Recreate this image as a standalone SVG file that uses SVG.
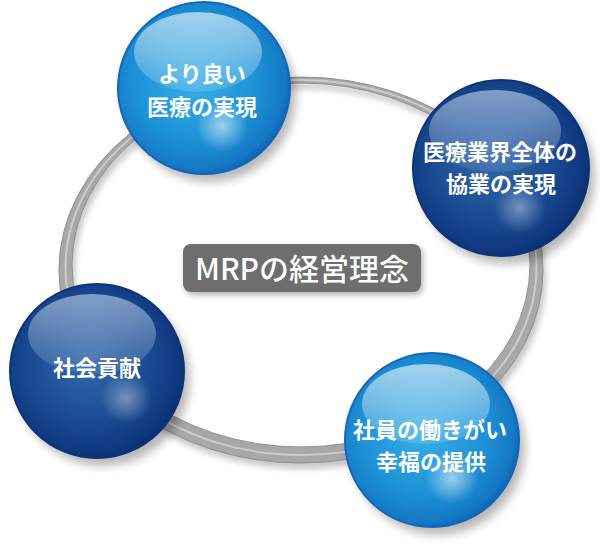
<svg xmlns="http://www.w3.org/2000/svg" width="600" height="547" viewBox="0 0 600 547">
<defs>
<style>
.lbl{font-family:"Noto Sans CJK JP","Noto Sans",sans-serif;font-weight:700;font-size:22px;fill:#fff;text-anchor:middle}
.title{font-family:"Noto Sans CJK JP","Noto Sans",sans-serif;font-weight:500;font-size:30px;fill:#fff;text-anchor:middle}
</style>
<filter id="blur" x="-20%" y="-20%" width="140%" height="140%"><feGaussianBlur stdDeviation="5"/></filter>
<filter id="blur2" x="-20%" y="-20%" width="140%" height="140%"><feGaussianBlur stdDeviation="3"/></filter>
<radialGradient id="lightBody" cx="45%" cy="45%" r="58%">
<stop offset="0" stop-color="#3aaee8"/>
<stop offset="0.6" stop-color="#1d93d7"/>
<stop offset="0.9" stop-color="#1579c6"/>
<stop offset="1" stop-color="#0d5fb0"/>
</radialGradient>
<radialGradient id="darkBody" cx="45%" cy="45%" r="58%">
<stop offset="0" stop-color="#3268aa"/>
<stop offset="0.6" stop-color="#1a4b92"/>
<stop offset="0.9" stop-color="#0f377e"/>
<stop offset="1" stop-color="#0a2d70"/>
</radialGradient>
<linearGradient id="hiLight" x1="0" y1="0" x2="0" y2="1">
<stop offset="0" stop-color="#fff" stop-opacity="0.6"/>
<stop offset="1" stop-color="#fff" stop-opacity="0.12"/>
</linearGradient>
<linearGradient id="hiDark" x1="0" y1="0" x2="0" y2="1">
<stop offset="0" stop-color="#c8d8ee" stop-opacity="0.6"/>
<stop offset="1" stop-color="#c8d8ee" stop-opacity="0.1"/>
</linearGradient>
<radialGradient id="spot">
<stop offset="0" stop-color="#fff" stop-opacity="0.55"/>
<stop offset="1" stop-color="#fff" stop-opacity="0"/>
</radialGradient>
</defs>

<g id="connectors">
<path d="M 59 270 A 242 193 0 1 0 543 270 A 242 193 0 1 0 59 270 Z M 72 265 A 229 182 0 1 0 530 265 A 229 182 0 1 0 72 265 Z" fill="#000" fill-rule="evenodd" opacity="0.22" transform="translate(3,6)" filter="url(#blur2)"/>
<path d="M 59 270 A 242 193 0 1 0 543 270 A 242 193 0 1 0 59 270 Z M 72 265 A 229 182 0 1 0 530 265 A 229 182 0 1 0 72 265 Z" fill="#a8a8a8" fill-rule="evenodd" stroke="#909090" stroke-width="1"/>
<ellipse cx="301" cy="267.5" rx="235.5" ry="187.5" fill="none" stroke="#d4d4d4" stroke-width="2" opacity="0.8"/>
</g>

<g id="center-label">
<rect x="185" y="247" width="238" height="48" rx="8" fill="#000" opacity="0.3" filter="url(#blur2)"/>
<rect x="183" y="244" width="238" height="48" rx="8" fill="#6e6e6e"/>
<text class="title" x="302" y="280">MRPの経営理念</text>
</g>

<g id="node-top">
<circle cx="210" cy="96" r="86" fill="#000" opacity="0.28" filter="url(#blur)"/>
<circle cx="204" cy="88" r="86" fill="url(#lightBody)" stroke="#1466b8" stroke-width="2"/>
<ellipse cx="198" cy="52" rx="64" ry="40" fill="url(#hiLight)"/>
<circle cx="222" cy="126" r="26" fill="url(#spot)"/>
<text class="lbl" x="202" y="82">より良い</text>
<text class="lbl" x="202" y="115">医療の実現</text>
</g>

<g id="node-right">
<circle cx="507" cy="176" r="88" fill="#000" opacity="0.28" filter="url(#blur)"/>
<circle cx="501" cy="168" r="88" fill="url(#darkBody)" stroke="#0c3478" stroke-width="2"/>
<ellipse cx="495" cy="131" rx="66" ry="41" fill="url(#hiDark)"/>
<circle cx="520" cy="208" r="26" fill="url(#spot)" opacity="0.7"/>
<text class="lbl" x="500" y="160">医療業界全体の</text>
<text class="lbl" x="501" y="192">協業の実現</text>
</g>

<g id="node-left">
<circle cx="103" cy="379" r="87" fill="#000" opacity="0.28" filter="url(#blur)"/>
<circle cx="97" cy="371" r="87" fill="url(#darkBody)" stroke="#0c3478" stroke-width="2"/>
<ellipse cx="92" cy="334" rx="64" ry="40" fill="url(#hiDark)"/>
<circle cx="126" cy="398" r="26" fill="url(#spot)" opacity="0.7"/>
<text class="lbl" x="97" y="376">社会貢献</text>
</g>

<g id="node-bottom">
<circle cx="438" cy="448" r="87" fill="#000" opacity="0.28" filter="url(#blur)"/>
<circle cx="432" cy="440" r="87" fill="url(#lightBody)" stroke="#1466b8" stroke-width="2"/>
<ellipse cx="426" cy="404" rx="64" ry="40" fill="url(#hiLight)"/>
<circle cx="452" cy="478" r="26" fill="url(#spot)"/>
<text class="lbl" x="430" y="438">社員の働きがい</text>
<text class="lbl" x="431" y="470">幸福の提供</text>
</g>
</svg>
